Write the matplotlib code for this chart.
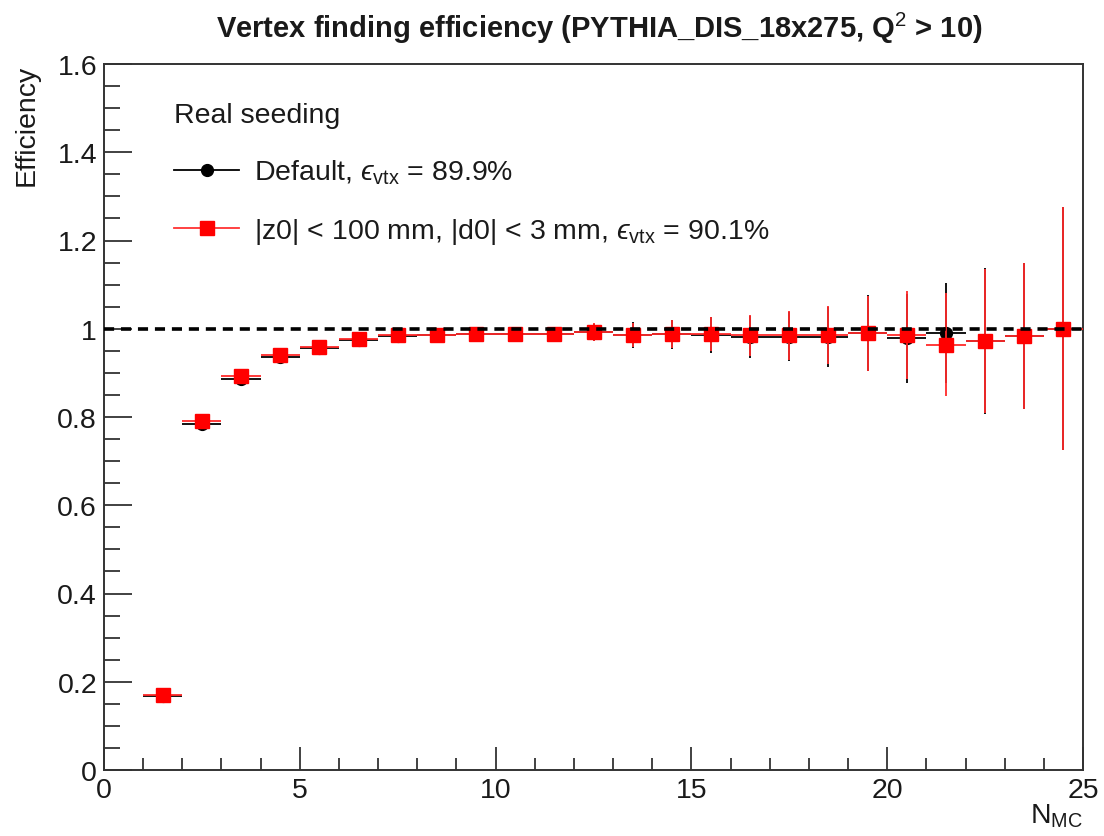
import matplotlib
matplotlib.use("Agg")
import matplotlib.pyplot as plt
from matplotlib.lines import Line2D
from matplotlib.ticker import MultipleLocator, FuncFormatter

plt.rcParams['font.family'] = ['Liberation Sans', 'DejaVu Sans']
plt.rcParams['mathtext.fontset'] = 'custom'
plt.rcParams['mathtext.rm'] = 'Liberation Sans'
plt.rcParams['mathtext.it'] = 'Liberation Sans:italic'
plt.rcParams['mathtext.bf'] = 'Liberation Sans:bold'
plt.rcParams['mathtext.fallback'] = 'stixsans'

# ---- data ----
n_mc = [1.5, 2.5, 3.5, 4.5, 5.5, 6.5, 7.5, 8.5, 9.5, 10.5, 11.5, 12.5,
        13.5, 14.5, 15.5, 16.5, 17.5, 18.5, 19.5, 20.5, 21.5, 22.5, 23.5, 24.5]
bin_halfwidth = 0.5

eff_default = [0.168, 0.785, 0.886, 0.935, 0.957, 0.975, 0.984, 0.985, 0.989, 0.989,
               0.987, 0.992, 0.986, 0.987, 0.986, 0.982, 0.982, 0.981, 0.990, 0.978,
               0.990, 0.972, 0.984, 1.000]
err_default = [0.004, 0.005, 0.005, 0.005, 0.005, 0.005, 0.005, 0.006, 0.007, 0.008,
               0.010, 0.019, 0.029, 0.032, 0.040, 0.048, 0.056, 0.068, 0.086, 0.100,
               0.114, 0.165, 0.165, 0.275]

eff_cut = [0.170, 0.790, 0.893, 0.940, 0.959, 0.976, 0.985, 0.985, 0.989, 0.989,
           0.987, 0.993, 0.986, 0.988, 0.988, 0.985, 0.985, 0.986, 0.990, 0.986,
           0.964, 0.973, 0.984, 1.000]
err_cut = [0.004, 0.005, 0.005, 0.005, 0.005, 0.005, 0.005, 0.006, 0.007, 0.008,
           0.010, 0.020, 0.027, 0.031, 0.039, 0.047, 0.055, 0.066, 0.085, 0.099,
           0.117, 0.163, 0.165, 0.275]

title = r"Vertex finding efficiency (PYTHIA_DIS_18x275, Q$^{2}$ > 10)"
label_default = "Default, $\u03f5_{\\mathrm{vtx}}$ = 89.9%"
label_cut = "|z0| < 100 mm, |d0| < 3 mm, $\u03f5_{\\mathrm{vtx}}$ = 90.1%"
legend_title = "Real seeding"

FS = 20.5
TXT = '#1a1a1a'

# ---- figure ----
fig = plt.figure(figsize=(11.04, 8.37), dpi=100)
ax = fig.add_axes([104 / 1104, 1 - 771 / 837, 979 / 1104, 706 / 837])

xerr = [bin_halfwidth] * len(n_mc)
ax.errorbar(n_mc, eff_default, yerr=err_default, xerr=xerr, fmt='o', color='black',
            ms=8.5, lw=1.3, capsize=0, zorder=3)
ax.errorbar(n_mc, eff_cut, yerr=err_cut, xerr=xerr, fmt='s', color='#ff0000',
            ecolor='#ff2a2a', ms=10.5, lw=1.3, capsize=0, zorder=4)

ax.axhline(1.0, color='black', lw=2.6, ls=(0, (2.8, 1.9)), zorder=5)

ax.set_xlim(0, 25)
ax.set_ylim(0, 1.6)
ax.xaxis.set_major_locator(MultipleLocator(5))
ax.xaxis.set_minor_locator(MultipleLocator(1))
ax.yaxis.set_major_locator(MultipleLocator(0.2))
ax.yaxis.set_minor_locator(MultipleLocator(0.05))
ax.yaxis.set_major_formatter(FuncFormatter(
    lambda v, p: "0" if abs(v) < 1e-9 else ("1" if abs(v - 1) < 1e-9 else f"{v:.1f}")))

ax.tick_params(axis='both', which='both', direction='in', top=False, right=False,
               labelsize=FS, colors='#333333', labelcolor=TXT)
ax.tick_params(axis='y', which='major', length=20, width=1.3, pad=5)
ax.tick_params(axis='y', which='minor', length=11.5, width=1.3)
ax.tick_params(axis='x', which='major', length=16.5, width=1.3, pad=5)
ax.tick_params(axis='x', which='minor', length=8.6, width=1.3)
for s in ax.spines.values():
    s.set_linewidth(1.4)
    s.set_color('#333333')

fig.text(0.5426, 0.9665, title, ha='center', va='center', fontsize=21, fontweight='bold',
         color=TXT)
fig.text(0.024, 1 - 65 / 837, "Efficiency", rotation=90, ha='center', va='top', fontsize=FS,
         color=TXT)
fig.text(1083 / 1104, 1 - 824 / 837, r"N$_{\mathrm{MC}}$", ha='right', va='baseline',
         fontsize=FS, color=TXT)

handles = [
    Line2D([0], [0], color='black', marker='o', ms=8.5, lw=1.3),
    Line2D([0], [0], color='#ff3333', marker='s', ms=10.5, mfc='#ff0000', mec='#ff0000', lw=1.3),
]
leg = ax.legend(handles, [label_default, label_cut], title=legend_title,
                loc='upper left', bbox_to_anchor=(0.0457, 0.9826), frameon=False,
                fontsize=FS, title_fontsize=FS, labelspacing=1.05,
                handlelength=2.28, handletextpad=0.53, alignment='left')
leg.get_title().set_color(TXT)
for t in leg.get_texts():
    t.set_color(TXT)

fig.savefig("out.png", dpi=100)
